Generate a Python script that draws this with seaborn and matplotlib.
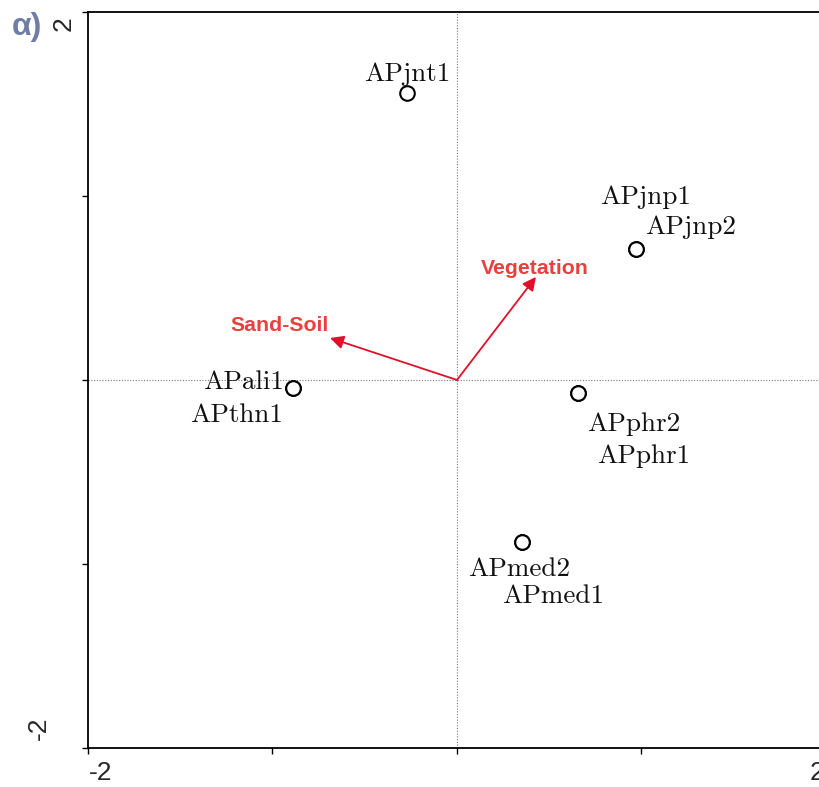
import matplotlib
matplotlib.use("Agg")
import matplotlib.pyplot as plt
import matplotlib.transforms as mtransforms
import seaborn as sns
import pandas as pd

# Ordination site scores (axis 1, axis 2)
sites = ["APjnt1", "APjnp1", "APjnp2", "APali1", "APthn1",
         "APphr2", "APphr1", "APmed2", "APmed1"]
axis1 = [-0.271, 0.970, 0.970, -0.889, -0.889, 0.656, 0.656, 0.352, 0.352]
axis2 = [1.560, 0.712, 0.712, -0.043, -0.043, -0.071, -0.071, -0.880, -0.880]

# Environmental variable vectors
env_vars = ["Vegetation", "Sand-Soil"]
env_axis1 = [0.428, -0.688]
env_axis2 = [0.560, 0.228]

axis_ticks = [-2, -1, 0, 1, 2]
axis_ticklabels = ["-2", "", "", "", "2"]

df = pd.DataFrame({"site": sites, "ax1": axis1, "ax2": axis2})

sns.set_theme(style="white")
plt.rcParams["font.family"] = ["Liberation Sans", "DejaVu Sans"]

fig = plt.figure(figsize=(8.2, 7.87), dpi=100)
ax = fig.add_axes([0.1073, 0.0496, 0.9, 0.9352])

ax.set_xlim(-2, 2)
ax.set_ylim(-2, 2)

# Zero reference lines
ax.axhline(0, color="#777777", ls=(0, (1, 1.5)), lw=0.8, zorder=1)
ax.axvline(0, color="#777777", ls=(0, (1, 1.5)), lw=0.8, zorder=1)

# Site markers (duplicates overlap)
sns.scatterplot(data=df, x="ax1", y="ax2", ax=ax, s=110, marker="o",
                facecolor="white", edgecolor="black", linewidth=1.5,
                zorder=4, legend=False)

# Label placement around each marker (pixels: left edge, baseline)
label_offsets = {
    "APjnt1": (-43, 12), "APjnp1": (-36, 45), "APjnp2": (9, 15),
    "APali1": (-90, -1), "APthn1": (-103, -34),
    "APphr2": (9, -38), "APphr1": (19, -70),
    "APmed2": (-54, -34), "APmed1": (-20, -61),
}
for name, x, y in zip(sites, axis1, axis2):
    dx, dy = label_offsets[name]
    ax.annotate(name, (x, y), xytext=(dx, dy), textcoords="offset pixels",
                ha="left", va="baseline", fontsize=19.5, family="cmr10",
                color="#111111", zorder=5)

# Environmental arrows
arrow_color = "#e0102a"
text_color = "#e8403f"
env_label_offsets = {"Vegetation": (-1, 3), "Sand-Soil": (-50, 7)}
for name, x, y in zip(env_vars, env_axis1, env_axis2):
    ax.annotate("", xy=(x, y), xytext=(0, 0),
                arrowprops=dict(arrowstyle="-|>", color=arrow_color, lw=1.3,
                                mutation_scale=20, shrinkA=0, shrinkB=0),
                zorder=3)
    dx, dy = env_label_offsets[name]
    ax.annotate(name, (x, y), xytext=(dx, dy), textcoords="offset pixels",
                ha="center", va="baseline", fontsize=15.3, fontweight="bold",
                color=text_color, zorder=5)

# Frame and ticks
for side in ["left", "bottom", "top", "right"]:
    ax.spines[side].set_visible(True)
    ax.spines[side].set_color("black")
    ax.spines[side].set_linewidth(1.3)

ax.set_xticks(axis_ticks)
ax.set_xticklabels(axis_ticklabels)
ax.set_yticks(axis_ticks)
ax.set_yticklabels(axis_ticklabels, rotation=90, va="center")
ax.tick_params(axis="both", direction="out", length=4, width=1.0,
               color="black", labelsize=19, pad=8, bottom=True, left=True)
ax.set_xlabel("")
ax.set_ylabel("")


def shift(label, dx_px, dy_px):
    off = mtransforms.ScaledTranslation(dx_px / 100, dy_px / 100,
                                        fig.dpi_scale_trans)
    label.set_transform(label.get_transform() + off)


xl = ax.get_xticklabels()
shift(xl[0], 13, 4)
shift(xl[-1], -9, 4)
yl = ax.get_yticklabels()
shift(yl[0], -20, 20)
shift(yl[-1], 4, -12)

fig.text(27 / 820, 1 - 27 / 787, "α)", ha="center", va="center",
         fontsize=23, fontweight="bold", color="#6f7ca6")

fig.savefig("out.png", dpi=100)
